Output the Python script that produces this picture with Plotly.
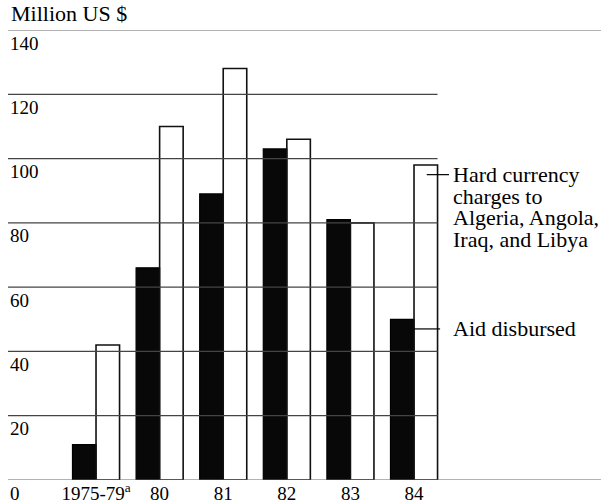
import plotly.graph_objects as go

# ---- data ----
categories = ["1975-79<sup>a</sup>", "80", "81", "82", "83", "84"]
aid_disbursed = [11, 66, 89, 103, 81, 50]
hard_currency = [42, 110, 128, 106, 80, 98]
y_ticks = [0, 20, 40, 60, 80, 100, 120, 140]
hard_label_lines = ["Hard currency", "charges to", "Algeria, Angola,", "Iraq, and Libya"]
aid_label = "Aid disbursed"
y_title = "Million US $"

# ---- layout constants ----
W, H = 601, 504
L, R, T, B = 8, 0, 30, 24
BARGAP = 0.26
X_LO, X_HI = -1.384, 7.94
Y_LO, Y_HI = 0, 140
FONT = "Liberation Serif"
plot_h = H - T - B
px_per_unit = plot_h / (Y_HI - Y_LO)


def py(px_from_top):
    """convert a pixel row of the page to a y-axis value (for text placement)"""
    return Y_LO + (H - B - px_from_top) / px_per_unit


def px_x(px):
    return (px - L) / (W - L - R)


fig = go.Figure()
fig.add_bar(
    x=categories, y=aid_disbursed, name=aid_label,
    marker=dict(color="#080808", line=dict(color="#000000", width=1.2)),
)
fig.add_bar(
    x=categories, y=hard_currency, name="Hard currency charges",
    marker=dict(color="rgba(255,255,255,0)", line=dict(color="#111111", width=1.6)),
)

last_edge = (len(categories) - 1) + (1 - BARGAP) / 2
shapes = []
for v in y_ticks:
    if v in (Y_LO, Y_HI):
        shapes.append(dict(type="line", xref="paper", yref="y", x0=0, x1=1, y0=v, y1=v,
                           line=dict(color="#666666", width=1.2), layer="above"))
    else:
        shapes.append(dict(type="line", xref="x", yref="y", x0=X_LO, x1=last_edge, y0=v, y1=v,
                           line=dict(color="#444444", width=1.2), layer="above"))

# leader lines from the last pair of bars to the text labels
last = len(categories) - 1
shapes.append(dict(type="line", xref="x", yref="y",
                   x0=last + 0.2, x1=last + 0.55,
                   y0=hard_currency[-1] - 3, y1=hard_currency[-1] - 3,
                   line=dict(color="#000000", width=1.2), layer="above"))
shapes.append(dict(type="line", xref="x", yref="y",
                   x0=last, x1=last + 0.41,
                   y0=aid_disbursed[-1] - 3, y1=aid_disbursed[-1] - 3,
                   line=dict(color="#000000", width=1.2), layer="above"))

annotations = []
for v in y_ticks:
    annotations.append(dict(xref="paper", yref="y", x=0, y=v, xanchor="left", yanchor="middle",
                            xshift=0, yshift=-13, text=str(v), showarrow=False,
                            font=dict(family=FONT, size=19, color="#000000")))
annotations.append(dict(xref="paper", yref="paper", x=0, y=1, xanchor="left", yanchor="middle",
                        xshift=1, yshift=17, text=y_title, showarrow=False,
                        font=dict(family=FONT, size=22, color="#000000")))
line_rows = [174, 196, 217.5, 239]
for txt, row in zip(hard_label_lines, line_rows):
    annotations.append(dict(xref="paper", yref="y", x=px_x(451), y=py(row), xanchor="left",
                            yanchor="middle", text=txt, showarrow=False,
                            font=dict(family=FONT, size=22, color="#000000")))
annotations.append(dict(xref="paper", yref="y", x=px_x(451), y=py(328), xanchor="left",
                        yanchor="middle", text=aid_label, showarrow=False,
                        font=dict(family=FONT, size=22, color="#000000")))

fig.update_layout(
    width=W, height=H,
    margin=dict(l=L, r=R, t=T, b=B, pad=0),
    paper_bgcolor="white", plot_bgcolor="white",
    barmode="group", bargap=BARGAP, bargroupgap=0,
    showlegend=False,
    shapes=shapes, annotations=annotations,
    xaxis=dict(type="category", range=[X_LO, X_HI], showgrid=False, zeroline=False,
               showline=False, ticks="", ticklabelstandoff=0,
               tickfont=dict(family=FONT, size=19, color="#000000"), automargin=False,
               fixedrange=True),
    yaxis=dict(range=[Y_LO, Y_HI], showgrid=False, zeroline=False, showline=False,
               showticklabels=False, ticks="", automargin=False, fixedrange=True),
)

fig.write_html(
    "out.html",
    config={"displayModeBar": False},
    post_script="document.body.style.margin='0';document.body.style.overflow='hidden';",
)
